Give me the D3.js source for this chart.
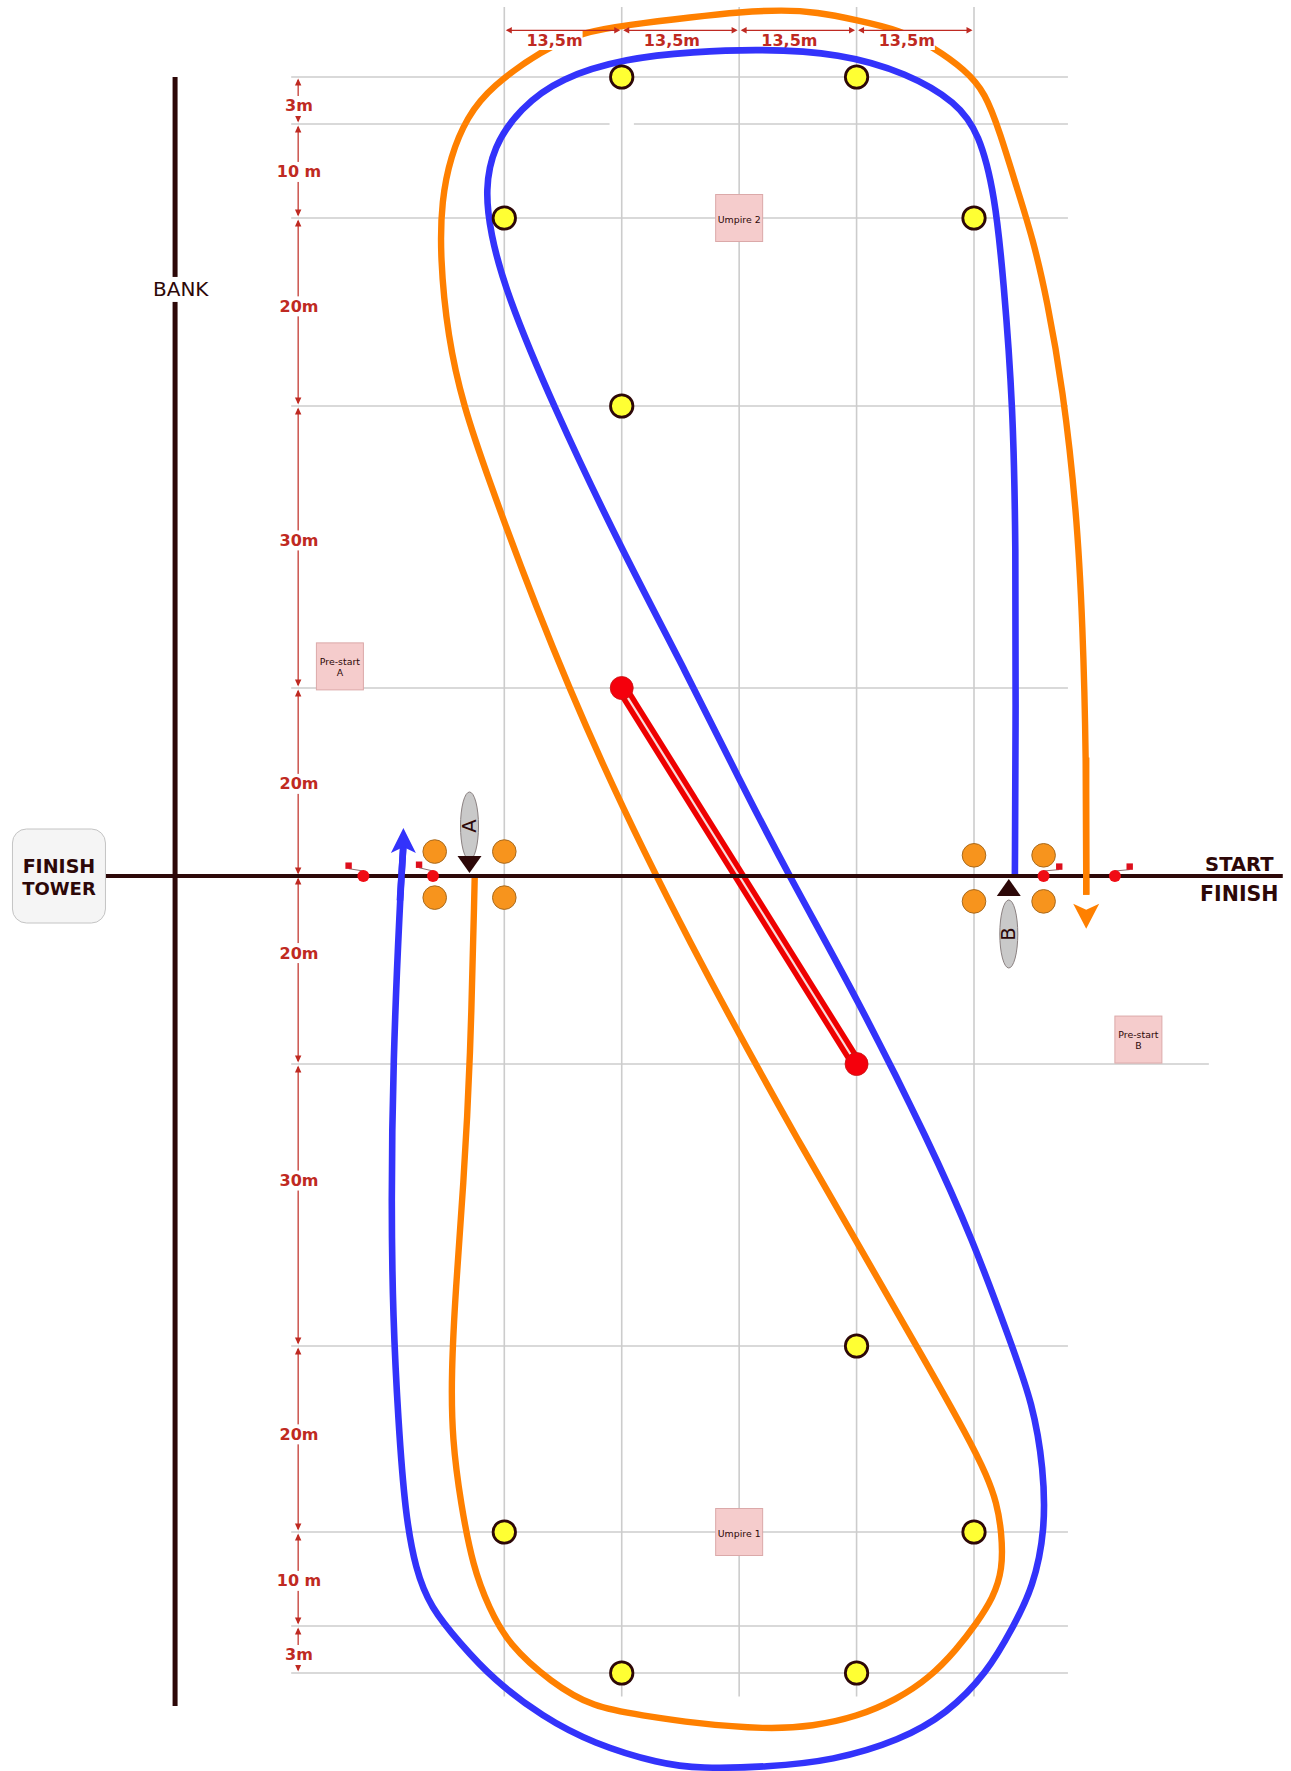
<!DOCTYPE html>
<html>
<head>
<meta charset="utf-8">
<style>
  html, body { margin: 0; padding: 0; background: #fff; }
  text { font-family: "DejaVu Sans", Verdana, sans-serif; }
</style>
<script src="https://cdn.jsdelivr.net/npm/d3@7/dist/d3.min.js"></script>
</head>
<body>
<div id="my_dataviz"></div>
<script>
// all course positions are metres: x from the centre line, y from the top buoy line
var gridX = [-27, -13.5, 0, 13.5, 27];
var stopsY = [0, 3, 13, 33, 63, 83, 103, 133, 153, 163, 166];
var gapsY = ["3m", "10 m", "20m", "30m", "20m", "20m", "30m", "20m", "10 m", "3m"];
var gapsYAt = [1.85, 8.1, 22.4, 47.3, 73.2, 91.2, 115.4, 142.5, 158.2, 164.85];
var gapsX = ["13,5m", "13,5m", "13,5m", "13,5m"];

var hLines = [
  [0, -51.5, 37.8], [3, -51.5, -14.9], [3, -12.1, 37.8], [13, -51.5, 37.8], [33, -51.5, 37.8],
  [63, -51.5, 37.8], [103, -51.5, 54], [133, -51.5, 37.8], [153, -51.5, 37.8], [163, -51.5, 37.8], [166, -51.5, 37.8]
];

var yellowBuoys = [[-13.5, 0], [13.5, 0], [-27, 13], [27, 13], [-13.5, 33], [13.5, 133], [-27, 153], [27, 153], [-13.5, 166], [13.5, 166]];
var redBuoys = [[-13.5, 63], [13.5, 103]];
var gateBuoys = [[-35, 80.4], [-27, 80.4], [-35, 85.3], [-27, 85.3], [27, 80.8], [35, 80.8], [27, 85.7], [35, 85.7]];
var startDots = [[-43.2, 83.0, -44.9, 81.9], [-35.2, 83.0, -36.8, 81.8], [35, 83.0, 36.8, 82], [43.2, 83.0, 44.9, 82]];

var boxes = [["Umpire 2", "", 0, 13], ["Umpire 1", "", 0, 153], ["Pre-start", "A", -45.9, 60.7], ["Pre-start", "B", 45.9, 100.4]];

var bluePath = [
  [31.7, 83], [31.8, 64.4], [31.8, 48.1], [31.5, 33], [30.4, 19.6], [29.4, 10.5], [27.6, 4], [25, 1.6],
  [19.3, -0.26], [11.6, -1.53], [2.4, -1.79], [-5.3, -1.61], [-12.9, -1.21], [-20.6, 0.06], [-25.2, 2.0], [-28.3, 5.45],
  [-29.2, 10], [-28.6, 14.6], [-26.9, 20.7], [-21.4, 33], [-13.4, 48.5], [-6, 61.5], [0.1, 72.9], [5.8, 83.1],
  [13.5, 95.9], [21.9, 111.4], [26.9, 121.8], [31.1, 132.3], [33.8, 139.3], [35, 146.2], [35.2, 152.8], [33.8, 158.9],
  [31.5, 163.06], [28.5, 166], [23.9, 168.6], [18.5, 170.3], [10.8, 171.6], [3.2, 172], [-4.5, 172.1], [-9.1, 171.8],
  [-16.8, 170.5], [-22.6, 168.8], [-28.3, 166.4], [-32.1, 164.1], [-35.5, 161], [-37.2, 157], [-38.4, 151], [-39.2, 141],
  [-39.8, 130], [-40, 118], [-39.8, 102.9], [-39, 85.6], [-38.6, 79.7]
];

var orangePath = [
  [-30.4, 83.1], [-30.9, 102.9], [-31.7, 116], [-32.6, 127], [-33.1, 136], [-33, 143], [-32, 150], [-30.6, 156.7],
  [-28.8, 161], [-26.5, 164.2], [-21.6, 166.6], [-16.8, 168.2], [-11.1, 168.7], [-5.3, 169.2], [3.2, 169.6], [8.5, 169.4],
  [13.5, 168.8], [18.1, 167.7], [21.9, 166.3], [25, 164.5], [27.3, 162.7], [29.2, 160], [30.3, 157], [30.2, 153.1],
  [29.6, 149.8], [28.5, 147], [26.5, 143.1], [20, 132.3], [6.6, 111], [-6, 89.7], [-16, 70.9], [-23.7, 53.7],
  [-29, 40.3], [-31.7, 33], [-33.5, 25.7], [-34.4, 17], [-34.2, 11.1], [-33.2, 6.5], [-31.3, 2.55], [-28.5, 0.6],
  [-22.6, -1.72], [-18, -2.87], [-12.9, -3.32], [-5.3, -3.83], [0.1, -4.15], [5, -4.28], [8.9, -4.15], [13.5, -3.64],
  [18.5, -3.0], [22.3, -1.91], [26, -0.45], [28.3, 1.0], [30, 3.96], [31.9, 9.7], [33.8, 15.3], [35.4, 21.7],
  [37.2, 31], [38.8, 44.1], [39.5, 56.2], [39.9, 70.4], [39.9, 85]
];

var x = d3.scaleLinear().domain([-27, 27]).range([504.3, 974]);
// the drawing is not to scale near the ends, so the y scale is piecewise
var y = d3.scaleLinear().domain(stopsY).range([77, 124, 218, 406, 688, 876, 1064, 1346, 1532, 1626, 1673]);

var dark = "#2d0808", red = "#bf2a22", grey = "#cccccc";
var blue = "#3333fb", orange = "#ff8000";

var svg = d3.select("#my_dataviz")
  .append("svg")
  .attr("width", 1291)
  .attr("height", 1771)
  .style("display", "block");

var line = d3.line()
  .x(function(d) { return x(d[0]); })
  .y(function(d) { return y(d[1]); })
  .curve(d3.curveBasis);

function tri(px, py, dx, dy, w, color, g) {
  // small arrow head with tip at px,py pointing along dx,dy
  var len = Math.abs(dx) + Math.abs(dy);
  var nx = dy / len * w, ny = dx / len * w;
  (g || svg).append("path")
    .attr("d", "M" + px + "," + py + "L" + (px - dx + nx) + "," + (py - dy + ny) + "L" + (px - dx - nx) + "," + (py - dy - ny) + "Z")
    .attr("fill", color);
}

function label(g, txt, px, py, size, weight, color, pad) {
  var t = g.append("text")
    .attr("x", px)
    .attr("y", py)
    .attr("text-anchor", "middle")
    .attr("dominant-baseline", "central")
    .style("font-size", size + "px")
    .style("font-weight", weight)
    .attr("fill", color)
    .text(txt);
  if (pad != null) {
    var b = t.node().getBBox();
    g.insert("rect", function() { return t.node(); })
      .attr("x", b.x - pad)
      .attr("y", b.y - 0.5)
      .attr("width", b.width + pad * 2)
      .attr("height", b.height + 1)
      .attr("fill", "#fff");
  }
  return t;
}

// grid
svg.append("g").selectAll("line")
  .data(hLines)
  .enter().append("line")
  .attr("x1", function(d) { return x(d[1]); })
  .attr("x2", function(d) { return x(d[2]); })
  .attr("y1", function(d) { return y(d[0]); })
  .attr("y2", function(d) { return y(d[0]); })
  .attr("stroke", grey)
  .attr("stroke-width", 1.6);

svg.append("g").selectAll("line")
  .data(gridX)
  .enter().append("line")
  .attr("x1", function(d) { return x(d); })
  .attr("x2", function(d) { return x(d); })
  .attr("y1", y(-4.47))
  .attr("y2", y(167.5))
  .attr("stroke", grey)
  .attr("stroke-width", 1.6);

// bank
svg.append("line")
  .attr("x1", x(-64.85)).attr("x2", x(-64.85))
  .attr("y1", y(0)).attr("y2", y(168.1))
  .attr("stroke", dark).attr("stroke-width", 5);
label(svg, "BANK", x(-64.2), y(20.6), 20, "normal", dark, 1);

// umpire and pre-start boxes
boxes.forEach(function(d) {
  var g = svg.append("g");
  g.append("rect")
    .attr("x", x(d[2]) - 23.5).attr("y", y(d[3]) - 23.5)
    .attr("width", 47).attr("height", 47)
    .attr("fill", "#f5cccc").attr("stroke", "#dba9a9").attr("stroke-width", 1);
  if (d[1] == "") {
    label(g, d[0], x(d[2]), y(d[3]) + 1, 9.4, "normal", dark);
  } else {
    label(g, d[0], x(d[2]), y(d[3]) - 5, 9.4, "normal", dark);
    label(g, d[1], x(d[2]), y(d[3]) + 6, 9.4, "normal", dark);
  }
});

// red course line between the crossing buoys
svg.append("path").datum(redBuoys)
  .attr("d", d3.line().x(function(d) { return x(d[0]); }).y(function(d) { return y(d[1]); }))
  .attr("stroke", "#ee0000").attr("stroke-width", 13).attr("fill", "none");
svg.append("path").datum(redBuoys)
  .attr("d", d3.line().x(function(d) { return x(d[0]); }).y(function(d) { return y(d[1]); }))
  .attr("stroke", "#fadada").attr("stroke-width", 2.2).attr("fill", "none");

// orange run goes under the top labels
svg.append("path").datum(orangePath)
  .attr("d", line)
  .attr("fill", "none").attr("stroke", orange).attr("stroke-width", 6.4);

// top dimensions
var topDims = svg.append("g");
gapsX.forEach(function(t, i) {
  var a = x(gridX[i]), b = x(gridX[i + 1]), ty = y(-2.98);
  label(topDims, t, (a + b) / 2 - 8.5, 40, 16, "bold", red, 0);
  topDims.append("line")
    .attr("x1", a + 3).attr("x2", b - 3).attr("y1", ty).attr("y2", ty)
    .attr("stroke", red).attr("stroke-width", 1.2);
  tri(a + 1.5, ty, -6, 0, 3.2, red, topDims);
  tri(b - 1.5, ty, 6, 0, 3.2, red, topDims);
});

// side dimensions
var sideDims = svg.append("g");
gapsY.forEach(function(t, i) {
  var a = y(stopsY[i]), b = y(stopsY[i + 1]), sx = x(-50.7);
  sideDims.append("line")
    .attr("x1", sx).attr("x2", sx).attr("y1", a + 3).attr("y2", b - 3)
    .attr("stroke", red).attr("stroke-width", 1.2);
  tri(sx, a + 1.5, 0, -7, 3.2, red, sideDims);
  tri(sx, b - 1.5, 0, 7, 3.2, red, sideDims);
  label(sideDims, t, x(-50.6), y(gapsYAt[i]), 16, "bold", red, 0);
});

// blue run
svg.append("path").datum(bluePath)
  .attr("d", line)
  .attr("fill", "none").attr("stroke", blue).attr("stroke-width", 6.6);

// start / finish line
svg.append("line")
  .attr("x1", x(-72.9)).attr("x2", x(62.5))
  .attr("y1", y(83)).attr("y2", y(83))
  .attr("stroke", dark).attr("stroke-width", 4);

// last legs of both runs sit over the start line
svg.append("path").datum(bluePath.slice(-2))
  .attr("d", line)
  .attr("fill", "none").attr("stroke", blue).attr("stroke-width", 6.6);
svg.append("path").datum(orangePath.slice(-2))
  .attr("d", line)
  .attr("fill", "none").attr("stroke", orange).attr("stroke-width", 6.4);

var bEnd = bluePath[bluePath.length - 1], oEnd = orangePath[orangePath.length - 1];
var bx = x(bEnd[0]), oy = y(oEnd[1]), ox = x(oEnd[0]), by = y(bEnd[1]);
svg.append("path")
  .attr("d", "M" + bx + "," + (by - 17) + "L" + (bx + 12.5) + "," + (by + 8) + "L" + bx + "," + (by + 2) + "L" + (bx - 12.5) + "," + (by + 8) + "Z")
  .attr("fill", blue);
svg.append("path")
  .attr("d", "M" + ox + "," + (oy + 34) + "L" + (ox + 13) + "," + (oy + 9) + "L" + ox + "," + (oy + 15) + "L" + (ox - 13) + "," + (oy + 9) + "Z")
  .attr("fill", orange);

// gate buoys
svg.append("g").selectAll("circle")
  .data(gateBuoys)
  .enter().append("circle")
  .attr("cx", function(d) { return x(d[0]); })
  .attr("cy", function(d) { return y(d[1]); })
  .attr("r", 11.8)
  .attr("fill", "#f7941d").attr("stroke", "#a86a1e").attr("stroke-width", 1);

// start line buoys and their flags
startDots.forEach(function(d) {
  svg.append("line")
    .attr("x1", x(d[0])).attr("y1", y(d[1]) - 5)
    .attr("x2", x(d[2])).attr("y2", y(d[3]) + 3)
    .attr("stroke", "#8a6a6a").attr("stroke-width", 1);
  svg.append("rect")
    .attr("x", x(d[2]) - 3.2).attr("y", y(d[3]) - 3.2)
    .attr("width", 6.4).attr("height", 6.4)
    .attr("fill", "#dd0f1c");
  svg.append("circle")
    .attr("cx", x(d[0])).attr("cy", y(d[1]))
    .attr("r", 6).attr("fill", "#f00c14");
});

// boats A and B
var boats = [["A", -31, 826], ["B", 31, 934]];
boats.forEach(function(d) {
  var bxx = x(d[1]), cy = d[2];
  svg.append("ellipse")
    .attr("cx", bxx).attr("cy", cy)
    .attr("rx", 9).attr("ry", 34)
    .attr("fill", "#c9c9c9").attr("stroke", "#8a8080").attr("stroke-width", 1);
  label(svg, d[0], bxx, cy, 19.5, "normal", dark)
    .attr("transform", "rotate(-90," + bxx + "," + cy + ")");
  if (d[0] == "A") {
    tri(bxx, y(83) - 3, 0, 17, 12, dark);
  } else {
    tri(bxx, y(83) + 3, 0, -17, 12, dark);
  }
});

// course buoys
svg.append("g").selectAll("circle")
  .data(yellowBuoys)
  .enter().append("circle")
  .attr("cx", function(d) { return x(d[0]); })
  .attr("cy", function(d) { return y(d[1]); })
  .attr("r", 11.2)
  .attr("fill", "#ffff33").attr("stroke", dark).attr("stroke-width", 2.8);

svg.append("g").selectAll("circle")
  .data(redBuoys)
  .enter().append("circle")
  .attr("cx", function(d) { return x(d[0]); })
  .attr("cy", function(d) { return y(d[1]); })
  .attr("r", 11.5)
  .attr("fill", "#f5000c").attr("stroke", "#c81414").attr("stroke-width", 0.8);

// finish tower
var tx = x(-78.2), ty = y(83);
svg.append("rect")
  .attr("x", tx - 46.5).attr("y", ty - 47)
  .attr("width", 93).attr("height", 94)
  .attr("rx", 14)
  .attr("fill", "#f5f5f5").attr("stroke", "#c4c4c4").attr("stroke-width", 1);
label(svg, "FINISH", tx, ty - 10, 19, "bold", dark);
label(svg, "TOWER", tx, ty + 12, 18, "bold", dark);

label(svg, "START", x(57.5), y(81.8), 19.5, "bold", dark);
label(svg, "FINISH", x(57.5), y(84.9), 20.5, "bold", dark);
</script>
</body>
</html>
